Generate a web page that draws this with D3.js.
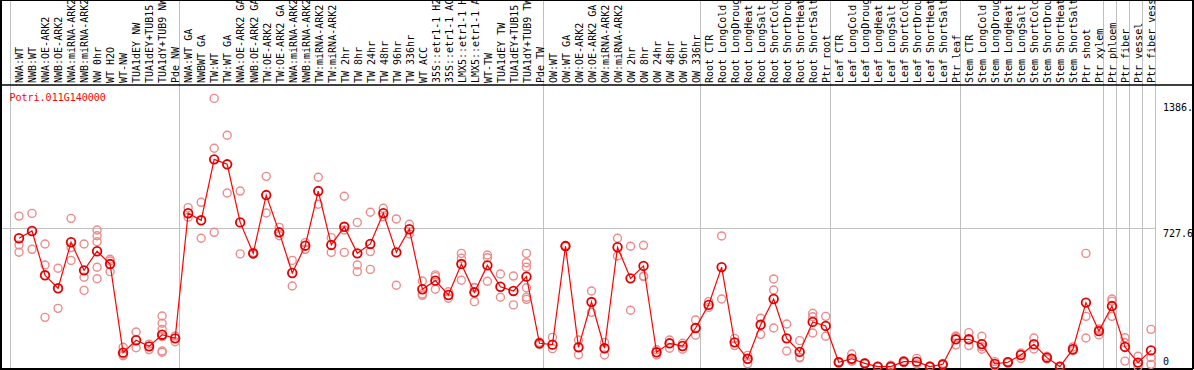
<!DOCTYPE html>
<html>
<head>
<meta charset="utf-8">
<script src="https://cdn.jsdelivr.net/npm/d3@7"></script>
<style>
  body { margin: 0; background: #fff; }
  svg { display: block; }
  text { font-family: "DejaVu Sans Mono", monospace; font-size: 10px; }
</style>
</head>
<body>
<svg width="1194" height="370"></svg>
<script>
(function (d3) {
  'use strict';

  const geneName = 'Potri.011G140000';

  const categories = [
    'NWA:WT', 'NWB:WT', 'NWA:OE-ARK2', 'NWB:OE-ARK2', 'NWA:miRNA-ARK2', 'NWB:miRNA-ARK2',
    'NW 0hr', 'WT H2O', 'WT-NW', 'TUA1dEY NW', 'TUA1dEY+TUB15 NW', 'TUA1dY+TUB9 NW', 'Pde NW',
    'NWA:WT GA', 'NWBWT GA', 'TW:WT', 'TW:WT GA', 'NWA:OE-ARK2 GA', 'NWB:OE-ARK2 GA',
    'TW:OE-ARK2', 'TW:OE-ARK2 GA', 'NWA:miRNA-ARK2 GA', 'NWB:miRNA-ARK2 GA', 'TW:miRNA-ARK2',
    'TW:miRNA-ARK2', 'TW 2hr', 'TW 8hr', 'TW 24hr', 'TW 48hr', 'TW 96hr', 'TW 336hr', 'WT ACC',
    '35S::etr1-1 H2O', '35S::etr1-1 ACC', 'LMX5::etr1-1 H2O', 'LMX5::etr1-1 ACC', 'WT-TW',
    'TUA1dEY TW', 'TUA1dEY+TUB15 TW', 'TUA1dY+TUB9 TW', 'Pde TW',
    'OW:WT', 'OW:WT GA', 'OW:OE-ARK2', 'OW:OE-ARK2 GA', 'OW:miRNA-ARK2', 'OW:miRNA-ARK2',
    'OW 2hr', 'OW 8hr', 'OW 24hr', 'OW 48hr', 'OW 96hr', 'OW 336hr',
    'Root CTR', 'Root LongCold', 'Root LongDrought', 'Root LongHeat', 'Root LongSalt',
    'Root ShortCold', 'Root ShortDrought', 'Root ShortHeat', 'Root ShortSalt', 'Ptr root',
    'Leaf CTR', 'Leaf LongCold', 'Leaf LongDrought', 'Leaf LongHeat', 'Leaf LongSalt',
    'Leaf ShortCold', 'Leaf ShortDrought', 'Leaf ShortHeat', 'Leaf ShortSalt', 'Ptr leaf',
    'Stem CTR', 'Stem LongCold', 'Stem LongDrought', 'Stem LongHeat', 'Stem LongSalt',
    'Stem ShortCold', 'Stem ShortDrought', 'Stem ShortHeat', 'Stem ShortSalt', 'Ptr shoot', 'Ptr xylem',
    'Ptr phloem', 'Ptr fiber', 'Ptr vessel', 'Ptr fiber vessel'
  ];

  // index of the first sample of each group (last entry = end)
  const groupStarts = [0, 13, 41, 53, 63, 73, 84, 85, 86, 87, 88];

  const means = [
    674, 712, 480, 412, 653, 506, 606, 539, 75, 140, 108, 169, 150,
    805, 768, 1087, 1061, 757, 595, 900, 705, 492, 635, 921, 639, 734, 595, 644, 805, 600, 721,
    407, 452, 377, 539, 391, 532, 420, 398, 473, 124,
    117, 633, 103, 340, 98, 627, 464, 529, 77, 124, 110, 204,
    325, 523, 129, 43, 221, 356, 150, 79, 236, 215,
    25, 43, 19, 2, 2, 28, 28, 2, 14, 145,
    145, 120, 16, 25, 63, 119, 49, 2, 93, 337, 188,
    319, 105, 23, 87
  ];

  const replicates = [
    [790, 639, 601], [804, 616], [644, 534, 260], [517, 307], [778, 625, 558], [644, 470, 401],
    [717, 687, 656, 522, 462], [564, 499, 555], [103, 59, 66], [183, 101], [120, 91],
    [267, 229, 197, 159, 84, 77], [162, 132],
    [834, 784], [862, 674], [1406, 1145, 705], [1213, 911], [921, 592], [600, 590], [998, 806],
    [731, 687], [558, 424], [651, 616], [993, 852], [677, 600], [894, 717, 600], [757, 534, 499],
    [810, 604, 511], [831, 787], [775, 428], [747, 696], [450, 382, 375], [482, 473, 407],
    [394, 360], [595, 569, 454], [415, 416, 342], [586, 572, 449], [487, 365], [476, 325],
    [595, 546, 522, 415, 365, 354], [130, 118],
    [155, 96], [636, 630], [141, 64], [398, 286], [129, 63], [674, 581], [632, 297],
    [637, 473, 476], [90, 63], [141, 98], [124, 93], [246, 166],
    [342, 312], [686, 356], [150, 112], [61, 17], [255, 171], [461, 403, 204], [225, 84],
    [138, 51, 48], [281, 263, 178], [265, 161],
    [28, 22], [68, 33, 30], [22, 16], [4, 0], [10, 0], [33, 23], [45, 16], [5, 0], [18, 10],
    [162, 157, 116],
    [180, 112], [161, 93, 106], [28, 5], [28, 22], [73, 45], [152, 94], [56, 42], [4, 0],
    [105, 85], [595, 265, 152], [197, 168, 199],
    [356, 345, 265], [153, 127, 31], [56, 2], [197, 49, 14]
  ];

  const yTickValues = [0, 727.6, 1386];
  const yTickLabels = ['0', '727.6', '1386.'];

  const svg = d3.select('svg');
  const width = +svg.attr('width');
  const height = +svg.attr('height');

  const headerBottom = 85;
  const plotRight = 1155;
  const frameRight = 1192;
  const frameBottom = 368;

  const xScale = d3.scaleBand()
    .domain(d3.range(categories.length))
    .range([10, plotRight]);
  const px = i => xScale(i) + 9;

  const yScale = d3.scaleLinear()
    .domain([0, 1455.2])
    .range([367, 89]);

  svg.append('rect')
    .attr('width', width).attr('height', height).attr('fill', '#fff');

  // horizontal grid line (middle tick)
  svg.append('line')
    .attr('x1', 1).attr('x2', plotRight)
    .attr('y1', Math.round(yScale(727.6)) + 0.5).attr('y2', Math.round(yScale(727.6)) + 0.5)
    .attr('stroke', '#c0c0c0');

  // group separators
  svg.append('g').selectAll('line')
    .data(groupStarts)
    .enter().append('line')
      .attr('x1', d => d === categories.length ? plotRight + 0.5 : Math.round(xScale(d)) + 0.5)
      .attr('x2', d => d === categories.length ? plotRight + 0.5 : Math.round(xScale(d)) + 0.5)
      .attr('y1', 0).attr('y2', frameBottom)
      .attr('stroke', '#c0c0c0');

  // sample labels, rotated
  svg.append('g').selectAll('text')
    .data(categories)
    .enter().append('text')
      .attr('transform', (d, i) => `translate(${xScale(i) + 13.3}, 83) rotate(-90)`)
      .attr('fill', '#000')
      .text(d => d);

  // frame
  const frame = svg.append('g').attr('stroke', '#000').attr('stroke-width', 2);
  frame.append('line').attr('x1', 0).attr('x2', width).attr('y1', 0).attr('y2', 0);
  frame.append('line').attr('x1', 1).attr('x2', 1).attr('y1', 0).attr('y2', frameBottom + 1);
  frame.append('line').attr('x1', 0).attr('x2', frameRight + 1).attr('y1', frameBottom + 1).attr('y2', frameBottom + 1);
  frame.append('line').attr('x1', frameRight + 1).attr('x2', frameRight + 1).attr('y1', 0).attr('y2', frameBottom + 1);
  frame.append('line').attr('x1', 0).attr('x2', width).attr('y1', headerBottom).attr('y2', headerBottom)
    .attr('stroke-width', 1.5);

  // right-hand axis labels
  svg.append('g').selectAll('text')
    .data(yTickValues)
    .enter().append('text')
      .attr('x', 1163)
      .attr('y', (d, i) => d === 0 ? yScale(d) - 2 : yScale(d) + 9)
      .attr('fill', '#000')
      .text((d, i) => yTickLabels[i]);

  // replicate points
  const repData = [];
  replicates.forEach((reps, i) => reps.forEach(v => repData.push({ i, v })));
  svg.append('g').selectAll('circle')
    .data(repData)
    .enter().append('circle')
      .attr('cx', d => px(d.i))
      .attr('cy', d => yScale(d.v))
      .attr('r', 4)
      .attr('fill', 'none')
      .attr('stroke', '#ee8a8a')
      .attr('stroke-width', 1.4);

  // mean line
  const line = d3.line()
    .x((d, i) => px(i))
    .y(d => yScale(d));
  svg.append('path')
    .datum(means)
    .attr('d', line)
    .attr('fill', 'none')
    .attr('stroke', '#ff0000')
    .attr('stroke-width', 1.2);

  // mean points
  svg.append('g').selectAll('circle')
    .data(means)
    .enter().append('circle')
      .attr('cx', (d, i) => px(i))
      .attr('cy', d => yScale(d))
      .attr('r', 4.3)
      .attr('fill', 'none')
      .attr('stroke', '#e00000')
      .attr('stroke-width', 1.8);

  svg.append('text')
    .attr('x', 9.5)
    .attr('y', 101)
    .attr('fill', '#ff0000')
    .text(geneName);

}(d3));
</script>
</body>
</html>
